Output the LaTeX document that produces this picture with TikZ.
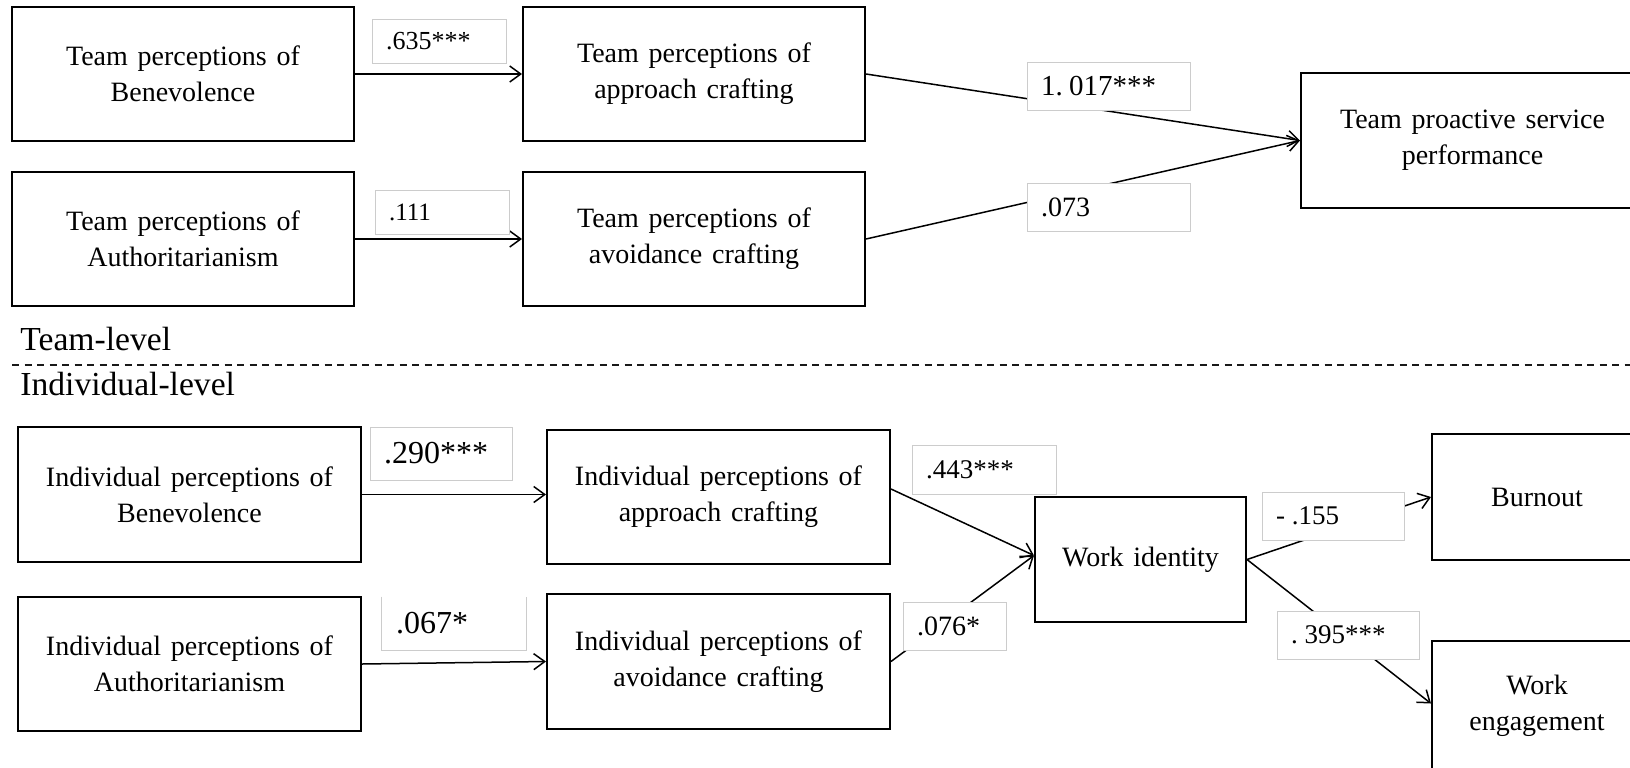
\documentclass[tikz,border=0pt]{standalone}
\usepackage{fontspec}
\setmainfont{Liberation Serif}[WordSpace=1.4]
\usetikzlibrary{arrows.meta}
\begin{document}
\begin{tikzpicture}[x=0.5pt,y=-0.5pt,
  box/.style={draw=black, line width=1pt, fill=white, align=center,
    font=\fontsize{14}{18}\selectfont, minimum width=171pt, minimum height=67pt, inner sep=0pt},
  lbl/.style={draw=black!20, line width=0.5pt, fill=white, align=left,
    inner xsep=7pt, inner ysep=0pt},
  arr/.style={draw=black, line width=0.75pt, -{Straight Barb[length=5.5pt,width=8pt]}},
  lvl/.style={font=\fontsize{16.8}{20}\selectfont, anchor=base west, inner sep=0pt},
]
\path[use as bounding box, fill=white] (0,0) rectangle (1630,767);

% team level boxes
\node[box] (tb)  at (183,74)  {Team perceptions of\\Benevolence};
\node[box] (ta)  at (183,239) {Team perceptions of\\Authoritarianism};
\node[box] (tap) at (694,74)  {Team perceptions of\\approach crafting};
\node[box] (tav) at (694,239) {Team perceptions of\\avoidance crafting};
\node[box, minimum width=171.5pt, minimum height=67.5pt] (tps) at (1472.5,140.5) {Team proactive service\\performance};

% individual level boxes
\node[box, minimum width=171.5pt, minimum height=67.5pt] (ib)  at (189.5,494.5) {Individual perceptions of\\Benevolence};
\node[box, minimum width=171.5pt] (ia)  at (189.5,664) {Individual perceptions of\\Authoritarianism};
\node[box, minimum width=171.5pt] (iap) at (718.5,497) {Individual perceptions of\\approach crafting};
\node[box, minimum width=171.5pt, minimum height=67.5pt] (iav) at (718.5,661.5) {Individual perceptions of\\avoidance crafting};
\node[box, minimum width=105.5pt, minimum height=62.5pt] (wi) at (1140.5,559.5) {Work identity};
\node[box, minimum width=105pt, minimum height=63pt] (bo) at (1537,497) {Burnout};
\node[box, minimum width=105pt, minimum height=64.5pt] (we) at (1537,705.5) {Work\\engagement};

% level labels and divider
\node[lvl] (tl) at (20,350) {Team-level};
\node[lvl] (il) at (20,395) {Individual-level};
\coordinate (dl) at (12,365);
\coordinate (dr) at (1630,365);
\draw[line width=1.4pt, dash pattern=on 3.5pt off 2.75pt, black!90] (dl) -- (dr);

% connectors
\draw[arr] (tb.east) -- (tap.west);
\draw[arr] (ta.east) -- (tav.west);
\draw[arr] (tap.east) -- (tps.west);
\draw[arr] (tav.east) -- (tps.west);
\draw[arr] (ib.east) -- (ib.east -| iap.west);
\draw[arr] (ia.east) -- (iav.west);
\draw[arr] ([yshift=4pt]iap.east) -- ([yshift=2pt]wi.west);
\draw[arr] (iav.east) -- ([yshift=2pt]wi.west);
\draw[arr] (wi.east) -- (bo.west);
\draw[arr] (wi.east) -- ([yshift=1pt]we.west);

% coefficient labels
\node[lbl, text width=53pt, minimum height=22pt, font=\fontsize{13}{15}\selectfont] (l1) at (439,41) {.635***};
\node[lbl, text width=53pt, minimum height=22pt, font=\fontsize{12.5}{15}\selectfont] (l2) at (442,212) {.111};
\node[lbl, text width=67.5pt, minimum height=24pt, font=\fontsize{14.5}{17}\selectfont] (l3) at (1108.5,86) {1.\hspace{0.22em}017***};
\node[lbl, text width=67.5pt, minimum height=24pt, font=\fontsize{14}{17}\selectfont] (l4) at (1108.5,207) {.073};
\node[lbl, text width=57pt, minimum height=26.5pt, font=\fontsize{16}{19}\selectfont] (l5) at (441,453.5) {.290***};
\node[lbl, draw=none, text width=58pt, minimum height=26.5pt, font=\fontsize{16}{19}\selectfont] (l6) at (454,623.5) {.067*};
\draw[draw=black!20, line width=0.5pt] (l6.north west) -- (l6.south west) -- (l6.south east) -- (l6.north east);
\node[lbl, text width=58pt, minimum height=24.5pt, font=\fontsize{13.5}{16}\selectfont] (l7) at (984,469.5) {.443***};
\node[lbl, text width=37.5pt, minimum height=24pt, font=\fontsize{14}{17}\selectfont] (l8) at (954.5,626) {.076*};
\node[lbl, text width=57pt, minimum height=24pt, font=\fontsize{13.5}{16}\selectfont] (l9) at (1333,516) {-\hspace{0.25em}.155};
\node[lbl, text width=57pt, minimum height=24pt, font=\fontsize{13.5}{16}\selectfont] (l10) at (1348,635) {.\hspace{0.25em}395***};
\end{tikzpicture}
\end{document}
